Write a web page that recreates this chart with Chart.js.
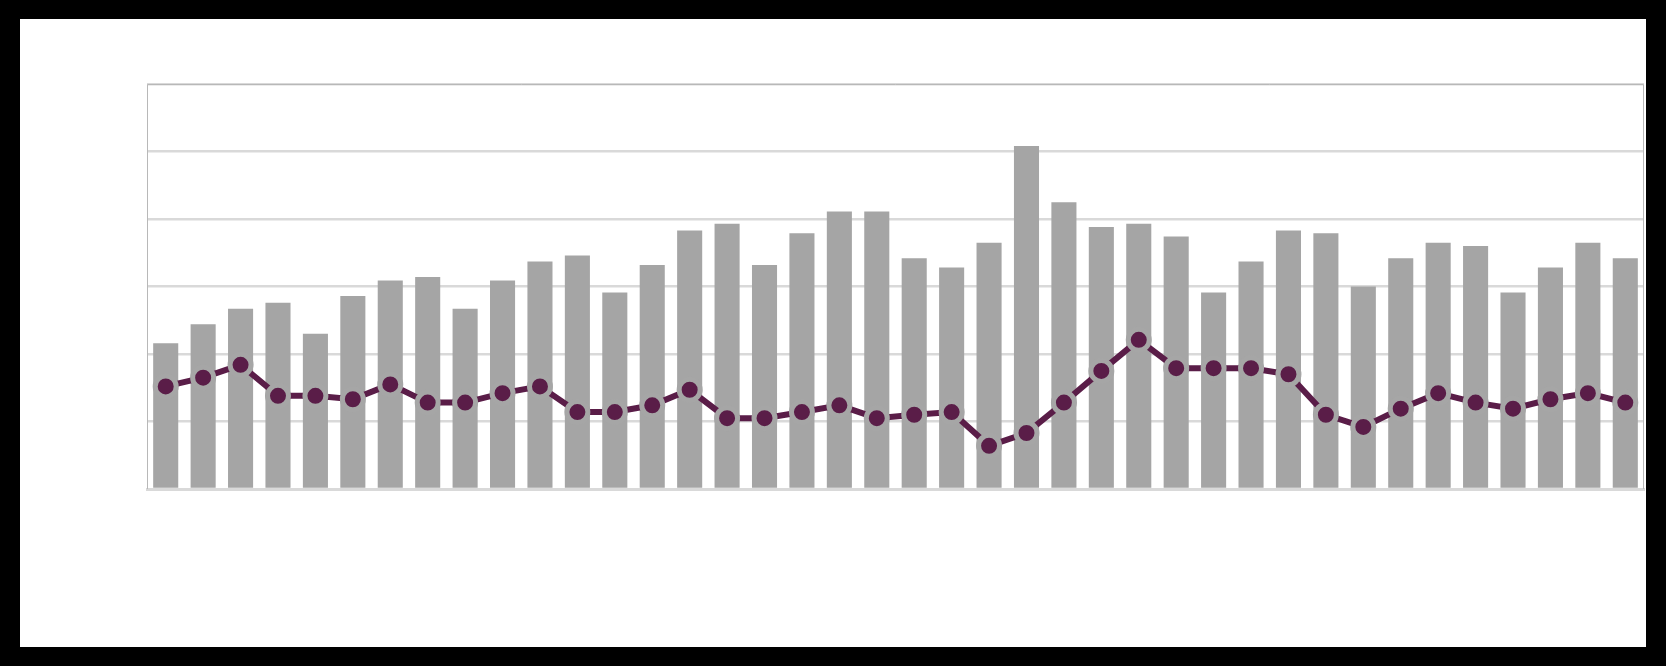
<!DOCTYPE html>
<html>
<head>
<meta charset="utf-8">
<script src="https://cdn.jsdelivr.net/npm/chart.js@4"></script>
<style>
  html, body { margin: 0; padding: 0; background: #000; }
  #frame { position: absolute; left: 20px; top: 19px; width: 1626px; height: 628px; background: #fff; }
</style>
</head>
<body>
<div id="frame"><canvas id="chart"></canvas></div>
<script>
// 40 periods, no labels shown in the original
const categories = Array.from({ length: 40 }, (_, i) => String(i + 1));

const barValues = [
  2.16, 2.44, 2.67, 2.76, 2.30, 2.86, 3.09, 3.14, 2.67, 3.09,
  3.37, 3.46, 2.91, 3.32, 3.83, 3.93, 3.32, 3.79, 4.11, 4.11,
  3.42, 3.28, 3.65, 5.08, 4.25, 3.88, 3.93, 3.74, 2.91, 3.37,
  3.83, 3.79, 3.00, 3.42, 3.65, 3.60, 2.91, 3.28, 3.65, 3.42
];

const lineValues = [
  1.52, 1.65, 1.84, 1.38, 1.38, 1.33, 1.55, 1.28, 1.28, 1.42,
  1.52, 1.14, 1.14, 1.24, 1.47, 1.05, 1.05, 1.14, 1.24, 1.05,
  1.10, 1.14, 0.64, 0.83, 1.28, 1.75, 2.21, 1.79, 1.79, 1.79,
  1.70, 1.10, 0.92, 1.19, 1.42, 1.28, 1.19, 1.33, 1.42, 1.28
];

const yMin = 0, yMax = 6, yStep = 1;

// thin frame round the plot area
const frameBox = {
  id: 'frameBox',
  afterDraw(chart) {
    const { ctx, chartArea: a } = chart;
    ctx.save();
    ctx.strokeStyle = '#b8b8b8';
    ctx.lineWidth = 1;
    ctx.beginPath();
    ctx.moveTo(a.left + 0.5, a.bottom);
    ctx.lineTo(a.left + 0.5, a.top + 0.5);
    ctx.lineTo(a.right - 0.5, a.top + 0.5);
    ctx.lineTo(a.right - 0.5, a.bottom);
    ctx.stroke();
    ctx.restore();
  }
};

new Chart(document.getElementById('chart'), {
  type: 'bar',
  data: {
    labels: categories,
    datasets: [
      {
        type: 'line',
        data: lineValues,
        borderColor: '#5a1d48',
        borderWidth: 6,
        pointRadius: 10.5,
        pointBackgroundColor: '#5a1d48',
        pointBorderColor: '#a6a6a6',
        pointBorderWidth: 5,
        tension: 0,
        clip: false,
        order: 0
      },
      {
        type: 'bar',
        data: barValues,
        backgroundColor: '#a5a5a5',
        barPercentage: 0.67,
        categoryPercentage: 1,
        order: 1
      }
    ]
  },
  options: {
    responsive: true,
    maintainAspectRatio: false,
    animation: false,
    layout: { autoPadding: false, padding: { left: 127, right: 2, top: 65, bottom: 150 } },
    plugins: { legend: { display: false }, tooltip: { enabled: false } },
    scales: {
      x: {
        grid: { display: false },
        border: { display: true, color: '#d9d9d9', width: 3 },
        ticks: { display: false }
      },
      y: {
        min: yMin,
        max: yMax,
        ticks: { display: false, stepSize: yStep },
        grid: { color: '#d9d9d9', lineWidth: 2.5, drawTicks: false },
        border: { display: false }
      }
    }
  },
  plugins: [frameBox]
});
</script>
</body>
</html>
